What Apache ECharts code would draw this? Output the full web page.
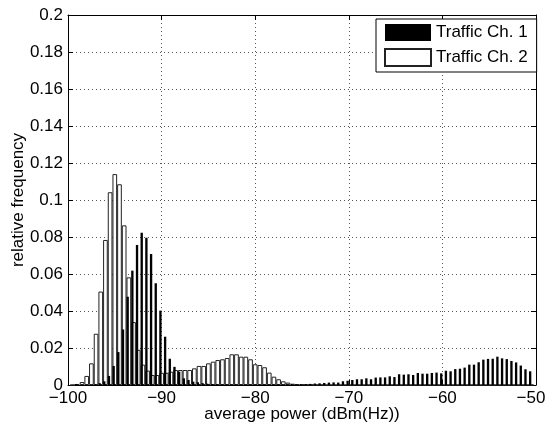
<!DOCTYPE html>
<html><head><meta charset="utf-8">
<script src="https://cdn.jsdelivr.net/npm/echarts@6/dist/echarts.min.js"></script>
<style>html,body{margin:0;padding:0;background:#fff}#c{width:547px;height:433px}</style>
</head><body><div id="c"></div><script>
const binCenters = [-99.5,-99,-98.5,-98,-97.5,-97,-96.5,-96,-95.5,-95,-94.5,-94,-93.5,-93,-92.5,-92,-91.5,-91,-90.5,-90,
-89.5,-89,-88.5,-88,-87.5,-87,-86.5,-86,-85.5,-85,-84.5,-84,-83.5,-83,-82.5,-82,-81.5,-81,-80.5,-80,
-79.5,-79,-78.5,-78,-77.5,-77,-76.5,-76,-75.5,-75,-74.5,-74,-73.5,-73,-72.5,-72,-71.5,-71,-70.5,-70,
-69.5,-69,-68.5,-68,-67.5,-67,-66.5,-66,-65.5,-65,-64.5,-64,-63.5,-63,-62.5,-62,-61.5,-61,-60.5,-60,
-59.5,-59,-58.5,-58,-57.5,-57,-56.5,-56,-55.5,-55,-54.5,-54,-53.5,-53,-52.5,-52,-51.5,-51,-50.5];
const ch1 = [0,0.0005,0,0,0,0.0003,0.001,0.002,0.0049,0.0103,
0.0178,0.030,0.0477,0.0618,0.0757,0.0823,0.0796,0.0708,0.055,0.0402,
0.0261,0.0142,0.0098,0.0072,0.0036,0.0027,0.0018,0.0015,0.001,0.0007,
0.0005,0.0004,0.0003,0.0003,0.0002,0.0003,0.0002,0.0002,0.0003,0.0002,
0.0002,0.0003,0.0002,0.0002,0.0003,0.0002,0.0003,0.0003,0.0004,0.0004,
0.0005,0.0006,0.0008,
0.0009,0.0011,0.0013,0.0014,0.0013,0.0020,0.0023,0.0027,0.0031,0.0031,
0.0036,0.0031,0.0040,0.0041,0.0041,0.0047,0.0043,0.0058,0.0056,0.0058,
0.0054,0.0065,0.0061,0.0061,0.0065,0.0067,0.0063,0.0077,0.0074,0.0086,
0.0088,0.0094,0.0110,0.0110,0.0123,0.0137,0.0141,0.0142,0.0153,0.0144,
0.0140,0.0130,0.0122,0.0105,0.0085,0.0074];
const ch2 = [0,0.0005,0.0016,0.0049,0.0117,0.0277,0.0505,0.0784,0.1042,0.114,
0.1085,0.0863,0.0582,0.034,0.019,0.011,0.0078,0.0054,0.0054,0.0066,
0.0066,0.0072,0.0081,0.0081,0.0081,0.0081,0.009,0.0103,0.0103,0.0117,
0.0126,0.0135,0.0139,0.0146,0.0166,0.0166,0.0153,0.0153,0.0139,0.0112,
0.0108,0.0096,0.0067,0.0045,0.0031,0.002,0.0013,0.0007,0.0004,0.0003,
0.0002,0.0002,0.0001,
0.0001,0,0,0,0,0,0,0,0,0,
0,0,0,0,0,0,0,0,0,0,
0,0,0,0,0,0,0,0,0,0,
0,0,0,0,0,0,0,0,0,0,
0,0,0,0,0,0];
const seriesNames = ['Traffic Ch. 1','Traffic Ch. 2'];
const xTicks = {min:-100, max:-50, interval:10};
const yTicks = {min:0, max:0.2, interval:0.02};

const FONT = "'Liberation Sans', Arial, sans-serif";
const FS = 17;
const chart = echarts.init(document.getElementById('c'), null, {renderer:'canvas'});
const fmtX = v => {
  const s = v < 0 ? '\u2212' + Math.abs(v) : String(v);
  return v === xTicks.max ? '{e|' + s + '}' : s;
};
const fmtY = v => String(+v.toFixed(2));
const grid = {color:'#555', type:[1,3], width:1};
chart.setOption({
  animation:false,
  backgroundColor:'#fff',
  textStyle:{fontFamily:FONT},
  grid:{left:68, right:11, top:15, bottom:48, outerBoundsMode:'none', containLabel:false},
  legend:{
    orient:'vertical', left:376, top:19, padding:[5,9,5,8],
    itemWidth:46, itemHeight:17, itemGap:7, icon:'rect',
    backgroundColor:'#fff', borderColor:'#000', borderWidth:1, borderRadius:0,
    textStyle:{fontSize:FS, color:'#000', fontFamily:FONT},
    data:seriesNames
  },
  xAxis:[{
    type:'value', min:xTicks.min, max:xTicks.max, interval:xTicks.interval, position:'bottom',
    axisLine:{show:true, onZero:false, lineStyle:{color:'#000', width:1}},
    axisTick:{show:true, inside:true, length:5, lineStyle:{color:'#000'}},
    axisLabel:{color:'#000', fontSize:FS, fontFamily:FONT, margin:5, formatter:fmtX,
      rich:{e:{fontSize:FS, fontFamily:FONT, color:'#000', padding:[0,10,0,0]}}},
    splitLine:{show:true, lineStyle:grid},
    name:'average power (dBm(Hz))', nameLocation:'middle', nameGap:21, nameMoveOverlap:false,
    nameTextStyle:{color:'#000', fontSize:FS, fontFamily:FONT}
  },{
    type:'value', min:xTicks.min, max:xTicks.max, interval:xTicks.interval, position:'top',
    axisLine:{show:true, onZero:false, lineStyle:{color:'#000', width:1}},
    axisTick:{show:true, inside:true, length:5, lineStyle:{color:'#000'}},
    axisLabel:{show:false}, splitLine:{show:false}
  }],
  yAxis:[{
    type:'value', min:yTicks.min, max:yTicks.max, interval:yTicks.interval, position:'left',
    axisLine:{show:true, onZero:false, lineStyle:{color:'#000', width:1}},
    axisTick:{show:true, inside:true, length:5, lineStyle:{color:'#000'}},
    axisLabel:{color:'#000', fontSize:FS, fontFamily:FONT, margin:5, formatter:fmtY},
    splitLine:{show:true, lineStyle:grid},
    name:'relative frequency', nameLocation:'middle', nameGap:41, nameRotate:90, nameMoveOverlap:false,
    nameTextStyle:{color:'#000', fontSize:FS, fontFamily:FONT}
  },{
    type:'value', min:yTicks.min, max:yTicks.max, interval:yTicks.interval, position:'right',
    axisLine:{show:true, onZero:false, lineStyle:{color:'#000', width:1}},
    axisTick:{show:true, inside:true, length:5, lineStyle:{color:'#000'}},
    axisLabel:{show:false}, splitLine:{show:false}
  }],
  series:[{
    name:seriesNames[0], type:'bar', xAxisIndex:0, yAxisIndex:0,
    data:binCenters.map((x,i)=>[x, ch1[i]]),
    barWidth:2.34, barGap:'-100%', z:3,
    itemStyle:{color:'#000'}
  },{
    name:seriesNames[1], type:'bar', xAxisIndex:0, yAxisIndex:0,
    data:binCenters.map((x,i)=>[x, ch2[i]]),
    barWidth:4.68, barGap:'-100%', z:2,
    itemStyle:{color:'#fff', borderColor:'#222', borderWidth:1}
  }]
});
</script></body></html>
